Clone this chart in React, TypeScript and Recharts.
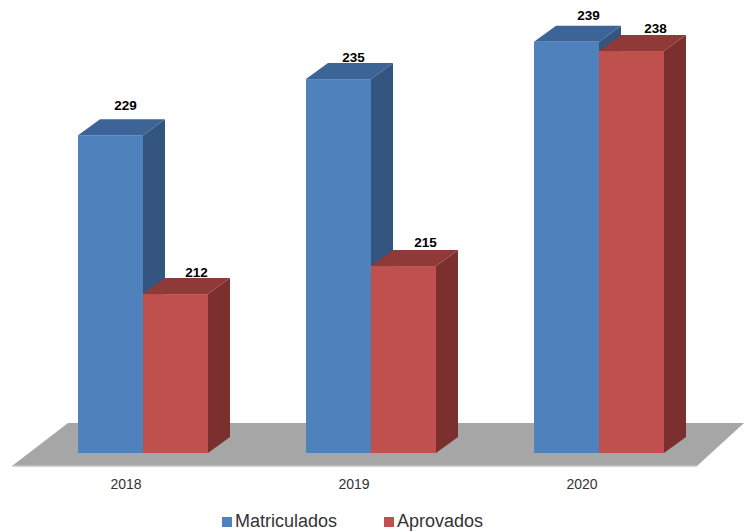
import React from "react";
import {
    BarChart,
    Bar,
    XAxis,
    YAxis,
    Legend,
    LabelList,
    ReferenceArea,
} from "recharts";

const years = ["2018", "2019", "2020"];
const matriculados = [229, 235, 239];
const aprovados = [212, 215, 238];
const seriesOrder = ["Matriculados", "Aprovados"];

const chartData = years.map((year, i) => ({
    year,
    Matriculados: matriculados[i],
    Aprovados: aprovados[i],
}));

const FONT = "'Liberation Sans', Arial, sans-serif";
const DEPTH_X = 22;
const DEPTH_Y = 16;

const BLUE = { front: "#4f81bd", top: "#3c6496", side: "#34557f" };
const RED = { front: "#c0504d", top: "#8f3a38", side: "#7c302e" };

// the value labels sit a little unevenly above the columns
const BLUE_LABEL_NUDGE = [[-5, -5], [-5, 3], [2, -1]];
const RED_LABEL_NUDGE = [[1, 3], [2, 1], [4, 2]];

// front, top and side faces of one 3d column
function makeBox(colors: { front: string; top: string; side: string }) {
    return function Box(props: any) {
        const { x, y, width, height } = props;
        const r = x + width;
        const b = y + height;
        return (
            <g>
                <polygon
                    points={`${r},${y} ${r + DEPTH_X},${y - DEPTH_Y} ${r + DEPTH_X},${b - DEPTH_Y} ${r},${b}`}
                    fill={colors.side}
                />
                <polygon
                    points={`${x},${y} ${x + DEPTH_X},${y - DEPTH_Y} ${r + DEPTH_X},${y - DEPTH_Y} ${r},${y}`}
                    fill={colors.top}
                />
                <rect x={x} y={y} width={width} height={height} fill={colors.front} />
            </g>
        );
    };
}

// grey slanted floor under the columns
function Floor(props: any) {
    const { x, y, width, height } = props;
    const b = y + height + 13;
    return (
        <g>
            <polygon
                points={`${x - 17},${b} ${x + width - 16},${b} ${x + width + 31},${y} ${x + 39},${y}`}
                fill="#a6a6a6"
            />
            <line x1={x - 17} y1={b} x2={x + width - 16} y2={b} stroke="#c4c4c4" strokeWidth={1.5} />
        </g>
    );
}

function makeLabel(nudge: number[][]) {
    return function ValueLabel(props: any) {
        const { x, y, width, value, index } = props;
        const [dx, dy] = nudge[index] ?? [0, 0];
        return (
            <text
                x={x + width / 2 + 20 + dx}
                y={y - 25 + dy}
                textAnchor="middle"
                dominantBaseline="central"
                fontFamily={FONT}
                fontSize={13.5}
                fontWeight="bold"
                fill="#000"
            >
                {value}
            </text>
        );
    };
}

function LegendRow(props: any) {
    const { payload } = props;
    return (
        <div style={{ display: "flex", gap: 47, fontFamily: FONT, fontSize: 18, color: "#333" }}>
            {payload.map((item: any) => (
                <div key={item.value} style={{ display: "flex", alignItems: "center", gap: 3 }}>
                    <span style={{ width: 10, height: 10, background: item.color }} />
                    <span>{item.value}</span>
                </div>
            ))}
        </div>
    );
}

export default function App() {
    return (
        <div style={{ position: "absolute", left: 0, top: 0, width: 744, height: 532, background: "#fff", overflow: "hidden" }}>
            <BarChart
                width={744}
                height={532}
                data={chartData}
                margin={{ top: 23, right: 31, bottom: 28, left: 29 }}
                barGap={0}
                barCategoryGap={49}
            >
                <XAxis
                    dataKey="year"
                    axisLine={false}
                    tickLine={false}
                    tick={{ fontSize: 14, fontFamily: FONT, fill: "#333", dx: -17 }}
                    tickMargin={20}
                />
                <YAxis hide domain={[195, 241]} />
                <ReferenceArea y1={195} y2={198.2} shape={Floor} ifOverflow="visible" />
                <Bar dataKey="Matriculados" fill={BLUE.front} shape={makeBox(BLUE)} isAnimationActive={false}>
                    <LabelList dataKey="Matriculados" content={makeLabel(BLUE_LABEL_NUDGE)} />
                </Bar>
                <Bar dataKey="Aprovados" fill={RED.front} shape={makeBox(RED)} isAnimationActive={false}>
                    <LabelList dataKey="Aprovados" content={makeLabel(RED_LABEL_NUDGE)} />
                </Bar>
                <Legend
                    content={LegendRow}
                    itemSorter={(item: any) => seriesOrder.indexOf(item.value)}
                    wrapperStyle={{ left: 222, width: 280, bottom: 0 }}
                />
            </BarChart>
        </div>
    );
}
